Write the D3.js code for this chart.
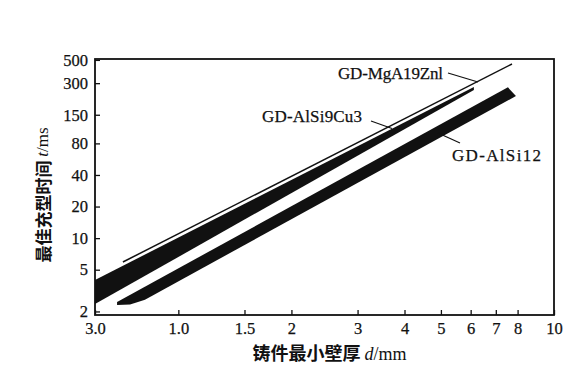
<!DOCTYPE html>
<html><head><meta charset="utf-8">
<script src="https://cdn.jsdelivr.net/npm/d3@7"></script>
<style>body{margin:0;background:#fff}</style>
</head><body>
<svg id="c" width="588" height="368"></svg>
<script>
// ---- data ----
const xTickValues = [0.6, 1, 1.5, 2, 3, 4, 5, 6, 7, 8, 10];
const xTickLabels = ["3.0","1.0","1.5","2","3","4","5","6","7","8","10"];
const yTickValues = [2, 5, 10, 20, 40, 80, 150, 300, 500];
const yTickLabels = ["2","5","10","20","40","80","150","300","500"];
// series points: [wall thickness d (mm), filling time t (ms)]
const alSi9Cu3Upper = [[0.6, 3.99], [6.12, 275.9]];
const alSi9Cu3Lower = [[0.6, 2.35], [6.12, 258.3]];
const alSi12Upper   = [[0.687, 2.46], [7.54, 274]];
const alSi12Lower   = [[0.687, 2.30], [0.744, 2.33], [0.815, 2.59], [7.92, 226]];
const mgAl9Zn1Line  = [[0.712, 5.92], [7.73, 457]];
const seriesNames   = ["GD-MgA19Znl", "GD-AlSi9Cu3", "GD-AlSi12"];

// ---- drawing ----
const svg = d3.select("#c");
const serif = "'Liberation Serif','Times New Roman',serif";
const cjk = "'Noto Sans CJK SC','Noto Sans',sans-serif";
const ink = "#111";

const x = d3.scaleLog().domain([0.6, 10]).range([95, 554]);
const y = d3.scaleLog().domain([1.85, 510]).range([315, 59]);

const line = d3.line().x(d => x(d[0])).y(d => y(d[1]));
const band = (up, low) => line(up.concat(low.slice().reverse())) + "Z";

svg.append("path").attr("d", band(alSi9Cu3Upper, alSi9Cu3Lower)).attr("fill", ink);
svg.append("path").attr("d", band(alSi12Upper, alSi12Lower)).attr("fill", ink);
svg.append("path").attr("d", line(mgAl9Zn1Line)).attr("fill", "none")
   .attr("stroke", ink).attr("stroke-width", 1.5);

// axes
const xAxis = d3.axisBottom(x).tickValues(xTickValues)
  .tickFormat((d, i) => xTickLabels[i]).tickSizeInner(-5).tickSizeOuter(0).tickPadding(7);
const gx = svg.append("g").attr("transform", "translate(0,315)").call(xAxis);
const yAxis = d3.axisLeft(y).tickValues(yTickValues)
  .tickFormat((d, i) => yTickLabels[i]).tickSizeInner(-5).tickSizeOuter(0).tickPadding(7);
const gy = svg.append("g").attr("transform", "translate(95,0)").call(yAxis);
[gx, gy].forEach(g => {
  g.select(".domain").remove();
  g.selectAll(".tick line").attr("stroke", ink).attr("stroke-width", 1.3);
  g.selectAll(".tick text").attr("fill", ink).attr("stroke", ink).attr("stroke-width", 0.25)
   .style("font-family", serif).style("font-size", "16.5px");
});

// frame
svg.append("rect").attr("x", x(0.6)).attr("y", y(510))
   .attr("width", x(10) - x(0.6)).attr("height", y(1.85) - y(510))
   .attr("fill", "none").attr("stroke", ink).attr("stroke-width", 1.8);

// series labels with leader lines
const labels = [
  {name: seriesNames[0], tx: 338, ty: 78.5, len: 105, l: [[448, 73], [478, 82]]},
  {name: seriesNames[1], tx: 262, ty: 122, len: 100, l: [[371, 121], [392, 128.5]]},
  {name: seriesNames[2], tx: 452, ty: 161, len: 89, l: [[460, 143], [438, 133]]}
];
labels.forEach(o => {
  svg.append("text").attr("x", o.tx).attr("y", o.ty).text(o.name)
     .attr("textLength", o.len).attr("lengthAdjust", "spacing")
     .attr("stroke", ink).attr("stroke-width", 0.25)
     .style("font-family", serif).style("font-size", "17px").attr("fill", ink);
  svg.append("line").attr("x1", o.l[0][0]).attr("y1", o.l[0][1])
     .attr("x2", o.l[1][0]).attr("y2", o.l[1][1]).attr("stroke", ink).attr("stroke-width", 1.2);
});

// axis titles
const yt = svg.append("text").attr("transform", "translate(42,195) rotate(-90)")
  .attr("text-anchor", "middle").attr("dominant-baseline", "central").attr("fill", ink)
  .style("font-size", "17px");
yt.append("tspan").text("最佳充型时间 ").style("font-family", cjk).style("font-weight", 700);
yt.append("tspan").text("t").style("font-family", serif).style("font-style", "italic");
yt.append("tspan").text("/ms").style("font-family", serif);

const xt = svg.append("text").attr("x", 329.5).attr("y", 360)
  .attr("text-anchor", "middle").attr("fill", ink).style("font-size", "18px");
xt.append("tspan").text("铸件最小壁厚 ").style("font-family", cjk).style("font-weight", 700);
xt.append("tspan").text("d").style("font-family", serif).style("font-style", "italic");
xt.append("tspan").text("/mm").style("font-family", serif);
</script>
</body></html>
